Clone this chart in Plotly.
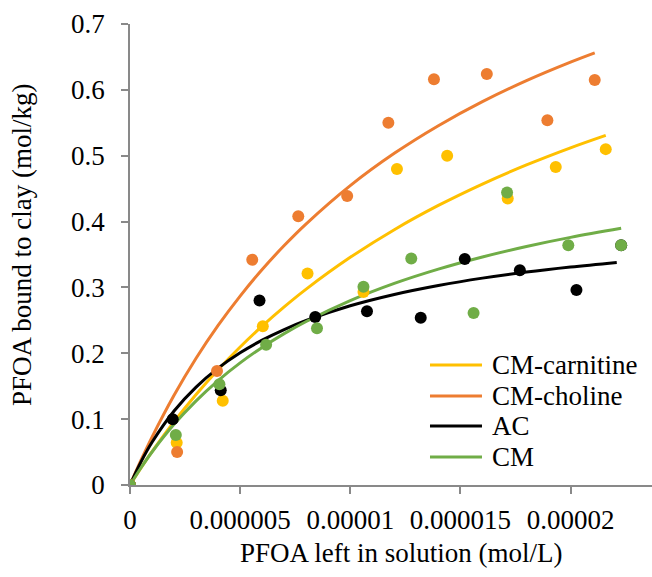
import plotly.graph_objects as go

# ---- measured points (x: mol/L, y: mol/kg) ----
carn_x = [0, 2.12e-6, 4.21e-6, 6.03e-6, 8.06e-6, 10.6e-6, 12.12e-6, 14.4e-6, 17.15e-6, 19.33e-6, 21.6e-6]
carn_y = [0, 0.064, 0.128, 0.241, 0.321, 0.293, 0.480, 0.500, 0.435, 0.483, 0.510]

chol_x = [0, 2.14e-6, 3.95e-6, 5.55e-6, 7.64e-6, 9.86e-6, 11.73e-6, 13.8e-6, 16.2e-6, 18.95e-6, 21.1e-6]
chol_y = [0, 0.050, 0.173, 0.342, 0.408, 0.439, 0.550, 0.616, 0.624, 0.554, 0.615]

ac_x = [0, 1.94e-6, 4.12e-6, 5.88e-6, 8.41e-6, 10.76e-6, 13.2e-6, 15.2e-6, 17.7e-6, 20.27e-6, 22.3e-6]
ac_y = [0, 0.100, 0.144, 0.280, 0.255, 0.264, 0.254, 0.343, 0.326, 0.296, 0.364]

cm_x = [0, 2.08e-6, 4.06e-6, 6.18e-6, 8.49e-6, 10.6e-6, 12.77e-6, 15.6e-6, 17.12e-6, 19.9e-6, 22.3e-6]
cm_y = [0, 0.076, 0.153, 0.213, 0.238, 0.301, 0.344, 0.261, 0.444, 0.364, 0.364]

# ---- fitted curves ----
fit_x = [0, 0.5e-6, 1e-6, 2e-6, 3e-6, 4e-6, 5e-6, 6e-6, 7e-6, 8e-6, 10e-6, 12e-6, 14e-6, 16e-6, 18e-6, 20e-6]
carn_fit_x = fit_x + [21.6e-6]
carn_fit_y = [0, 0.0259, 0.0505, 0.0961, 0.1375, 0.1751, 0.2096, 0.2413, 0.2705, 0.2975, 0.3457, 0.3877, 0.4245, 0.4570, 0.4860, 0.5120, 0.5309]
chol_fit_x = fit_x + [21.1e-6]
chol_fit_y = [0, 0.0376, 0.0727, 0.1362, 0.1924, 0.2423, 0.2869, 0.3272, 0.3636, 0.3966, 0.4546, 0.5036, 0.5456, 0.5821, 0.6140, 0.6421, 0.6562]
ac_fit_x = fit_x + [22.1e-6]
ac_fit_y = [0, 0.0351, 0.0648, 0.1123, 0.1487, 0.1774, 0.2007, 0.2200, 0.2361, 0.2499, 0.2721, 0.2893, 0.3029, 0.3141, 0.3233, 0.3310, 0.3380]
cm_fit_x = fit_x + [22.3e-6]
cm_fit_y = [0, 0.0262, 0.0501, 0.0921, 0.1278, 0.1586, 0.1854, 0.2089, 0.2298, 0.2483, 0.2800, 0.3061, 0.3278, 0.3463, 0.3622, 0.3760, 0.3898]

x_tickvals = [0, 5e-6, 10e-6, 15e-6, 20e-6]
x_ticktext = ["0", "0.000005", "0.00001", "0.000015", "0.00002"]
y_tickvals = [0, 0.1, 0.2, 0.3, 0.4, 0.5, 0.6, 0.7]
y_ticktext = ["0", "0.1", "0.2", "0.3", "0.4", "0.5", "0.6", "0.7"]

series_names = ["CM-carnitine", "CM-choline", "AC", "CM"]

YELLOW = "#FFC000"
ORANGE = "#ED7D31"
BLACK = "#000000"
GREEN = "#70AD47"
FONT = "Liberation Serif"
FS = 27
TXT = "#000000"
F = dict(family=FONT, size=FS, color=TXT)

fig = go.Figure()

# fitted lines
for name, fx, fy, col in [
    ("CM-carnitine", carn_fit_x, carn_fit_y, YELLOW),
    ("CM-choline", chol_fit_x, chol_fit_y, ORANGE),
    ("AC", ac_fit_x, ac_fit_y, BLACK),
    ("CM", cm_fit_x, cm_fit_y, GREEN),
]:
    fig.add_trace(go.Scatter(x=fx, y=fy, mode="lines", name=name,
                             line=dict(color=col, width=3, shape="spline"),
                             showlegend=False))

# measured points
for px, py, col in [
    (carn_x, carn_y, YELLOW),
    (ac_x, ac_y, BLACK),
    (chol_x, chol_y, ORANGE),
    (cm_x, cm_y, GREEN),
]:
    fig.add_trace(go.Scatter(x=px, y=py, mode="markers",
                             marker=dict(color=col, size=12, line=dict(width=0)),
                             showlegend=False))

# Excel-style legend (line sample + label), placed in paper coordinates
leg_cols = [YELLOW, ORANGE, BLACK, GREEN]
leg_y = [0.2603, 0.1931, 0.1280, 0.0607]
shapes = []
annotations = []
for nm, col, yy in zip(series_names, leg_cols, leg_y):
    shapes.append(dict(type="line", xref="paper", yref="paper",
                       x0=0.5747, x1=0.6743, y0=yy, y1=yy,
                       line=dict(color=col, width=3)))
    annotations.append(dict(text=nm, xref="paper", yref="paper", x=0.6895, y=yy,
                            xanchor="left", yanchor="middle", showarrow=False, font=F))

annotations += [
    dict(text="PFOA left in solution (mol/L)", xref="paper", yref="paper",
         x=0.521, y=-0.1475, xanchor="center", yanchor="middle",
         showarrow=False, font=F),
    dict(text="PFOA bound to clay (mol/kg)", xref="paper", yref="paper",
         x=-0.2069, y=0.5228, xanchor="center", yanchor="middle", textangle=-90,
         showarrow=False, font=F),
]

axis_col = "#898989"
fig.update_layout(
    template="none",
    width=652, height=577,
    margin=dict(l=130, r=0, t=24, b=92),
    paper_bgcolor="white", plot_bgcolor="white",
    font=F,
    showlegend=False,
    xaxis=dict(range=[0, 23.7e-6], tickvals=x_tickvals, ticktext=x_ticktext,
               showline=True, linecolor=axis_col, linewidth=1.5,
               ticks="outside", ticklen=7, tickcolor=axis_col, tickwidth=1.5,
               showgrid=False, zeroline=False, ticklabelstandoff=3, tickfont=F),
    yaxis=dict(range=[0, 0.7], tickvals=y_tickvals, ticktext=y_ticktext,
               showline=True, linecolor=axis_col, linewidth=1.5,
               ticks="outside", ticklen=7, tickcolor=axis_col, tickwidth=1.5,
               showgrid=False, zeroline=False, ticklabelstandoff=11, tickfont=F),
    shapes=shapes,
    annotations=annotations,
)

fig.write_html("out.html")
